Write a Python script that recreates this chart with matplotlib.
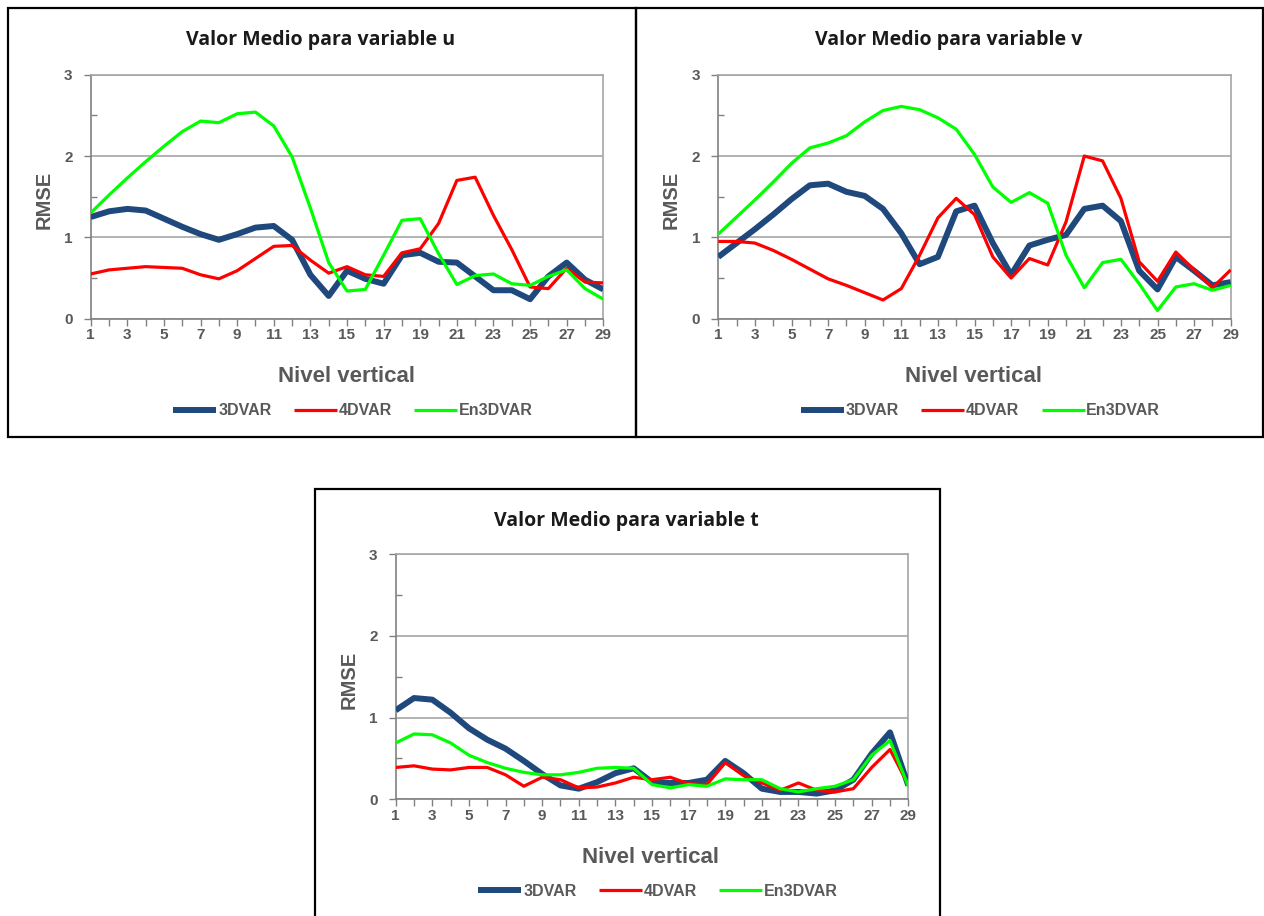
import matplotlib.pyplot as plt
from matplotlib.patches import Rectangle

# Nivel vertical 1..29
levels = list(range(1, 30))
series_names = ['3DVAR', '4DVAR', 'En3DVAR']

# variable u
u_3dvar = [1.25, 1.32, 1.35, 1.33, 1.23, 1.13, 1.04, 0.97, 1.04, 1.12, 1.14, 0.97, 0.54, 0.28, 0.59,
           0.49, 0.43, 0.78, 0.81, 0.70, 0.69, 0.52, 0.35, 0.35, 0.24, 0.52, 0.69, 0.48, 0.36]
u_4dvar = [0.55, 0.60, 0.62, 0.64, 0.63, 0.62, 0.54, 0.49, 0.59, 0.74, 0.89, 0.90, 0.72, 0.56, 0.64,
           0.54, 0.52, 0.81, 0.86, 1.17, 1.70, 1.74, 1.27, 0.85, 0.39, 0.37, 0.62, 0.45, 0.44]
u_en3dvar = [1.30, 1.52, 1.73, 1.93, 2.12, 2.30, 2.43, 2.41, 2.52, 2.54, 2.37, 1.99, 1.36, 0.69, 0.34,
             0.36, 0.78, 1.21, 1.23, 0.80, 0.42, 0.53, 0.55, 0.43, 0.41, 0.52, 0.60, 0.37, 0.24]

# variable v
v_3dvar = [0.76, 0.93, 1.10, 1.28, 1.47, 1.64, 1.66, 1.56, 1.51, 1.35, 1.05, 0.67, 0.76, 1.32, 1.39,
           0.93, 0.54, 0.90, 0.97, 1.03, 1.35, 1.39, 1.20, 0.59, 0.36, 0.76, 0.59, 0.41, 0.45]
v_4dvar = [0.95, 0.95, 0.93, 0.84, 0.73, 0.61, 0.49, 0.41, 0.32, 0.23, 0.37, 0.78, 1.24, 1.48, 1.28,
           0.76, 0.50, 0.74, 0.66, 1.19, 2.00, 1.94, 1.48, 0.70, 0.46, 0.82, 0.60, 0.38, 0.60]
v_en3dvar = [1.04, 1.25, 1.46, 1.68, 1.91, 2.10, 2.16, 2.25, 2.42, 2.56, 2.61, 2.57, 2.47, 2.33, 2.02,
             1.62, 1.43, 1.55, 1.42, 0.78, 0.38, 0.69, 0.73, 0.43, 0.10, 0.39, 0.43, 0.35, 0.41]

# variable t
t_3dvar = [1.09, 1.24, 1.22, 1.06, 0.87, 0.73, 0.62, 0.47, 0.31, 0.17, 0.13, 0.21, 0.32, 0.38, 0.21,
           0.20, 0.20, 0.24, 0.47, 0.32, 0.13, 0.09, 0.09, 0.07, 0.11, 0.24, 0.56, 0.82, 0.17]
t_4dvar = [0.39, 0.41, 0.37, 0.36, 0.39, 0.39, 0.30, 0.16, 0.27, 0.24, 0.14, 0.15, 0.20, 0.27, 0.24,
           0.27, 0.19, 0.18, 0.45, 0.29, 0.20, 0.11, 0.20, 0.11, 0.09, 0.13, 0.39, 0.61, 0.18]
t_en3dvar = [0.69, 0.80, 0.79, 0.69, 0.54, 0.45, 0.38, 0.33, 0.30, 0.30, 0.33, 0.38, 0.39, 0.38, 0.18,
             0.14, 0.18, 0.16, 0.25, 0.24, 0.24, 0.13, 0.09, 0.13, 0.16, 0.24, 0.54, 0.72, 0.16]

W, H = 1264, 916
GRAY = '#595959'
BLUE = '#1F497D'


def fx(x):
    return x / W


def fy(y):
    return 1 - y / H


def draw_panel(fig, box, plot, title, data):
    # outer black frame
    bl, bt, br, bb = box
    fig.patches.append(Rectangle((fx(bl), fy(bb)), fx(br - bl), (bb - bt) / H,
                                 transform=fig.transFigure, fill=False,
                                 edgecolor='black', linewidth=1.6, zorder=0))
    pl, pt, pr, pb = plot
    ax = fig.add_axes([fx(pl), fy(pb), fx(pr - pl), (pb - pt) / H])

    widths = [4.3, 2.3, 2.3]
    colors = [BLUE, '#FF0000', '#00FF00']
    for vals, name, c, lw in zip(data, series_names, colors, widths):
        ax.plot(levels, vals, color=c, linewidth=lw, label=name,
                solid_joinstyle='round', solid_capstyle='butt', zorder=3)

    ax.set_xlim(1, 29)
    ax.set_ylim(0, 3)
    ax.set_xticks(levels)
    ax.set_xticklabels([str(l) if l % 2 == 1 else '' for l in levels])
    ax.set_yticks([0, 1, 2, 3])
    ax.set_yticks([0.5, 1.5, 2.5], minor=True)
    ax.tick_params(axis='x', direction='out', length=5, width=1, color='#808080',
                   labelsize=11, labelcolor=GRAY, pad=2)
    ax.tick_params(axis='y', which='major', direction='out', length=5, width=1,
                   color='#808080', labelsize=11, labelcolor=GRAY, pad=8)
    ax.tick_params(axis='y', which='minor', direction='in', length=4, width=1, color='#808080')
    for lab in ax.get_xticklabels() + ax.get_yticklabels():
        lab.set_fontweight('bold')
        lab.set_family('Liberation Sans')

    ax.grid(axis='y', color='#A6A6A6', linewidth=1.2, zorder=1)
    ax.set_axisbelow(True)
    ax.spines['left'].set_color('#808080')
    ax.spines['bottom'].set_color('#808080')
    ax.spines['top'].set_color('#A6A6A6')
    ax.spines['right'].set_color('#A6A6A6')
    for s in ax.spines.values():
        s.set_linewidth(1.2)

    cx = (bl + br) / 2
    fig.text(fx(cx - 1), fy(bt + 32), title, ha='center', va='center',
             fontsize=14, fontweight='bold', family='Open Sans', color='#1A1A1A')
    fig.text(fx(pl - 47), fy((pt + pb) / 2 + 3), 'RMSE', rotation=90, ha='center', va='center',
             fontsize=14.5, fontweight='bold', family='Liberation Sans', color=GRAY)
    fig.text(fx((pl + pr) / 2 - 1), fy(pb + 58), 'Nivel vertical', ha='center', va='center',
             fontsize=16, fontweight='bold', family='Liberation Sans', color=GRAY)
    leg = ax.legend(loc='center', bbox_to_anchor=(fx((pl + pr) / 2 + 6), fy(pb + 92)),
                    bbox_transform=fig.transFigure, ncol=3, frameon=False,
                    handlelength=2.7, handletextpad=0.1, columnspacing=1.4,
                    prop={'family': 'Liberation Sans', 'weight': 'bold', 'size': 11.5})
    for t in leg.get_texts():
        t.set_color(GRAY)
    return ax


fig = plt.figure(figsize=(W / 100, H / 100), dpi=100)

draw_panel(fig, (8, 8, 636, 437), (90.7, 74.7, 603.3, 318.7),
           'Valor Medio para variable u', [u_3dvar, u_4dvar, u_en3dvar])
draw_panel(fig, (636, 8, 1263, 437), (718.3, 74.7, 1230.7, 318.7),
           'Valor Medio para variable v', [v_3dvar, v_4dvar, v_en3dvar])
draw_panel(fig, (315, 489, 940, 918), (395.7, 554.3, 908.3, 799.3),
           'Valor Medio para variable t', [t_3dvar, t_4dvar, t_en3dvar])

fig.savefig('out.png', dpi=100)
